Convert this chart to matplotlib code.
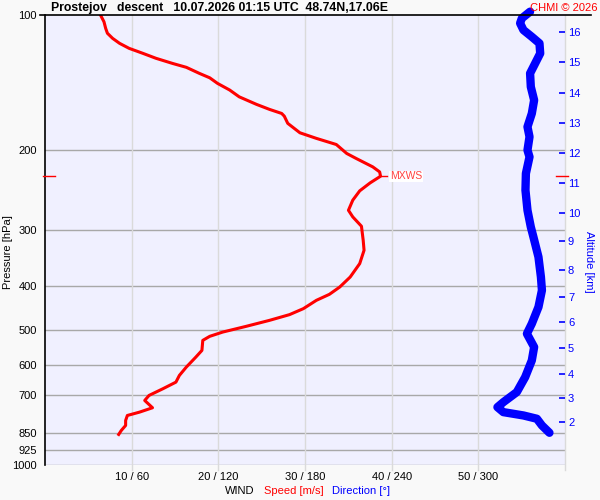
import matplotlib
matplotlib.use('Agg')
import matplotlib.pyplot as plt

# wind speed profile [m/s] vs pressure [hPa]
speed_hpa = [100, 103.5, 107.1, 109.8, 112.7, 115.6, 118.6, 121.7, 124.8, 128.1,
             130.7, 134.8, 137.9, 141.9, 146.8, 152.0, 158.0, 162.1, 165.5, 167.8,
             174.1, 182.7, 188.0, 194.0, 203.1, 208.4, 217.5, 223.2, 228.2, 236.1,
             245.9, 257.9, 271.6, 281.0, 294.7, 316.6, 333.3, 356.8, 382.2, 402.2,
             417.6, 430.6, 449.3, 463.3, 477.0, 491.9, 506.5, 517.7, 528.5, 556.3,
             575.7, 605.9, 632.3, 654.4, 676.9, 700.5, 718.7, 746.1, 763.0, 776.1,
             796.2, 816.8, 838.0, 855.3]
speed_ms = [6.4, 6.8, 7.0, 7.2, 7.8, 8.6, 9.7, 11.3, 12.8, 14.7,
            16.3, 17.8, 19.0, 19.9, 21.3, 22.4, 24.4, 25.9, 27.3, 27.6,
            28.0, 29.4, 31.3, 33.6, 34.8, 35.9, 37.8, 38.6, 38.7, 37.5,
            36.3, 35.5, 35.0, 35.5, 36.5, 36.7, 36.8, 36.3, 35.2, 34.0,
            32.8, 31.3, 29.8, 28.2, 25.9, 23.2, 20.5, 19.0, 18.2, 18.1,
            17.4, 16.3, 15.5, 15.1, 13.6, 12.0, 11.5, 12.4, 10.9, 9.5,
            9.3, 9.3, 8.8, 8.5]

# wind direction profile [deg] vs pressure [hPa]
dir_hpa = [98.3, 101.7, 104.3, 108.0, 111.8, 115.6, 121.7, 128.1, 134.8, 144.4,
           154.6, 165.5, 177.2, 186.5, 199.7, 206.7, 225.0, 245.1, 271.6, 295.8,
           311.3, 345.0, 382.2, 409.0, 445.6, 485.2, 510.8, 547.0, 585.6, 637.8,
           688.7, 725.0, 743.8, 763.0, 776.1, 789.3, 816.8, 848.0]
dir_deg = [335.7, 330.0, 328.8, 331.1, 336.9, 342.2, 342.7, 339.2, 335.7, 336.2,
           338.5, 336.9, 333.9, 335.3, 333.9, 335.3, 332.8, 332.5, 333.9, 336.2,
           338.0, 341.5, 343.2, 343.9, 341.5, 336.9, 333.5, 338.5, 336.9, 332.3,
           326.5, 317.2, 313.1, 317.2, 331.1, 340.4, 343.9, 349.1]

# axes ticks
p_ticks = [100, 200, 300, 400, 500, 600, 700, 850, 925, 1000]
wind_ticks = [10, 20, 30, 40, 50]
wind_labels = ['10 / 60', '20 / 120', '30 / 180', '40 / 240', '50 / 300']
alt_km = [2, 3, 4, 5, 6, 7, 8, 9, 10, 11, 12, 13, 14, 15, 16]
alt_hpa = [801.4, 710.2, 626.8, 550.7, 482.0, 422.5, 368.0, 318.3, 275.7,
           236.8, 203.1, 174.1, 149.1, 127.4, 109.0]

mxws_speed = 38.7
mxws_hpa = 228.2

plt.rcParams['font.family'] = ['Liberation Sans', 'DejaVu Sans']

fig = plt.figure(figsize=(6, 5), dpi=100, facecolor='#f9f9f9')
ax = fig.add_axes([0.075, 0.07, 0.867, 0.9])
ax.set_facecolor('#f0f0ff')

ax.set_yscale('log')
ax.set_ylim(1000, 100)
ax.set_xlim(0, 60)

# grid
for p in p_ticks[1:]:
    ax.axhline(p, color='#a8a8a8', lw=1, zorder=1)
for w in wind_ticks + [60]:
    ax.plot([w, w], [-0.01, 1], color='#dadada', lw=1, zorder=1,
            transform=ax.get_xaxis_transform(), clip_on=False)

ax.set_yticks(p_ticks)
ax.set_yticklabels([str(p) for p in p_ticks])
ax.yaxis.set_minor_locator(matplotlib.ticker.NullLocator())
ax.tick_params(axis='y', length=0, pad=6, labelsize=8)
ax.set_xticks(wind_ticks)
ax.set_xticklabels(wind_labels)
ax.tick_params(axis='x', length=0, pad=5, labelsize=8)
ax.set_ylabel('Pressure [hPa]', fontsize=8, va='center')
ax.yaxis.set_label_coords(-0.071, 0.473)

for s in ['right', 'bottom', 'top']:
    ax.spines[s].set_visible(False)
ax.spines['left'].set_linewidth(1.2)
ax.spines['left'].set_bounds(1000, 100)
ax.plot([-0.01, 1.05], [1, 1], transform=ax.transAxes, color='black', lw=1.2,
        clip_on=False, zorder=5)

# direction curve (0..360 mapped on 0..60)
ax.plot([d / 6.0 for d in dir_deg], dir_hpa, color='#0000ff', lw=6,
        solid_capstyle='round', clip_on=False, zorder=3)
# speed curve
ax.plot(speed_ms, speed_hpa, color='#ff0000', lw=2.2, zorder=4)

# max wind marker
ax.plot([mxws_speed, mxws_speed + 0.7], [mxws_hpa, mxws_hpa], color='red', lw=1, zorder=4)
ax.text(mxws_speed + 1.1, mxws_hpa, 'MXWS', color='#ff4040', fontsize=7.5,
        va='center', ha='left', zorder=6,
        bbox=dict(facecolor='white', edgecolor='none', pad=0.5))
ax.plot([-0.004, 0.02], [mxws_hpa, mxws_hpa], color='red', lw=1,
        transform=ax.get_yaxis_transform(), clip_on=False, zorder=6)
ax.plot([0.983, 1.005], [mxws_hpa, mxws_hpa], color='red', lw=1,
        transform=ax.get_yaxis_transform(), clip_on=False, zorder=6)

# altitude axis
ax2 = ax.twinx()
ax2.set_yscale('log')
ax2.set_ylim(1000, 100)
ax2.set_yticks(alt_hpa)
ax2.set_yticklabels([str(a) for a in alt_km])
ax2.yaxis.set_minor_locator(matplotlib.ticker.NullLocator())
ax2.tick_params(axis='y', colors='#0000ff', direction='in', length=4.5, width=1.2,
                pad=2, labelsize=8)
for s in ax2.spines.values():
    s.set_visible(False)
ax2.set_ylabel('Altitude [km]', color='#0000ff', fontsize=8, rotation=270, va='center')
ax2.yaxis.set_label_coords(1.046, 0.451)

# titles
fig.text(51 / 600, 1 - 8 / 500, 'Prostejov   descent   10.07.2026 01:15 UTC  48.74N,17.06E',
         fontsize=8.8, fontweight='bold', ha='left', va='center')
fig.text(598 / 600, 1 - 8 / 500, 'CHMI \u00a9 2026', color='#ff0000', fontsize=8,
         ha='right', va='center')

# bottom legend
fig.text(225 / 600, 1 - 491 / 500, 'WIND', fontsize=8, ha='left', va='center')
fig.text(264 / 600, 1 - 491 / 500, 'Speed [m/s]', color='#ff0000', fontsize=8,
         ha='left', va='center')
fig.text(332 / 600, 1 - 491 / 500, 'Direction [\u00b0]', color='#0000ff', fontsize=8,
         ha='left', va='center')

plt.savefig('out.png', dpi=100, facecolor=fig.get_facecolor())
plt.close()
